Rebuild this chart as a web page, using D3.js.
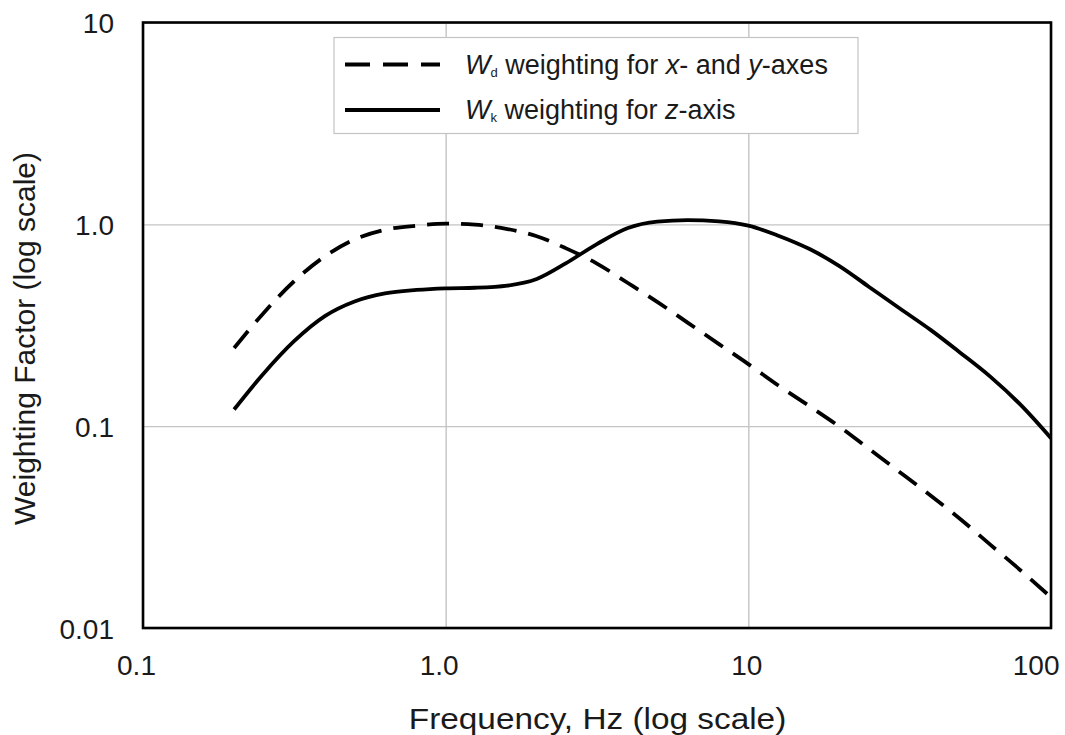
<!DOCTYPE html>
<html>
<head>
<meta charset="utf-8">
<script src="https://cdn.jsdelivr.net/npm/d3@7"></script>
<style>
  body { margin: 0; background: #fff; }
  text { font-family: "Liberation Sans", Arial, sans-serif; fill: #1a1a1a; }
</style>
</head>
<body>
<div id="chart"></div>
<script>
// Frequencies (Hz) read along the x axis
const freqs = [0.2, 0.25, 0.315, 0.4, 0.5, 0.63, 0.8, 1, 1.25, 1.6, 2, 2.5, 3.15, 4, 5, 6.3, 8,
  10, 12.5, 16, 20, 25, 31.5, 40, 50, 63, 80, 100];
// Wd weighting (x- and y-axes), dashed
const wdValues = [0.244, 0.363, 0.521, 0.696, 0.842, 0.940, 0.984, 1.009, 0.997, 0.948, 0.873, 0.760,
  0.641, 0.512, 0.413, 0.326, 0.255, 0.203, 0.160, 0.125, 0.0995, 0.0773, 0.0595, 0.0453, 0.0348,
  0.0259, 0.0191, 0.0142];
// Wk weighting (z-axis), solid
const wkValues = [0.121, 0.182, 0.263, 0.352, 0.415, 0.455, 0.473, 0.482, 0.485, 0.497, 0.536, 0.642,
  0.796, 0.959, 1.032, 1.050, 1.035, 0.986, 0.881, 0.752, 0.621, 0.491, 0.385, 0.300, 0.232,
  0.176, 0.126, 0.0872];

const xTicks = [0.1, 1, 10, 100];
const xTickLabels = ['0.1', '1.0', '10', '100'];
const yTicks = [0.01, 0.1, 1, 10];
const yTickLabels = ['0.01', '0.1', '1.0', '10'];

let
w = 1065, h = 735,
padL = 143, padR = 1051, padT = 22.5, padB = 628, // plot frame edges
gridColor = '#c4c4c4',
font = '"Liberation Sans", Arial, sans-serif',

xScale = d3.scaleLog().domain([0.1, 100]).range([padL, padR]),
yScale = d3.scaleLog().domain([0.01, 10]).range([padB, padT]),

svg = d3.select('#chart').append('svg').attr('width', w).attr('height', h);

// vertical grid lines
svg.append('g').
attr('transform', 'translate(0,' + padB + ')').
call(d3.axisBottom(xScale).tickValues(xTicks).tickSize(-(padB - padT)).tickFormat('')).
call(g => g.select('.domain').remove()).
call(g => g.selectAll('line').attr('stroke', gridColor).attr('stroke-width', 1.4));

// horizontal grid lines
svg.append('g').
attr('transform', 'translate(' + padL + ',0)').
call(d3.axisLeft(yScale).tickValues(yTicks).tickSize(-(padR - padL)).tickFormat('')).
call(g => g.select('.domain').remove()).
call(g => g.selectAll('line').attr('stroke', gridColor).attr('stroke-width', 1.4));

// x tick labels (the last one is pulled inside the page like the original)
svg.append('g').
attr('transform', 'translate(0,' + padB + ')').
call(d3.axisBottom(xScale).tickValues(xTicks).tickSize(0).tickPadding(26).
tickFormat((d, i) => xTickLabels[i])).
call(g => g.select('.domain').remove()).
call(g => g.selectAll('text').
style('font-size', '28px').style('fill', '#1a1a1a').style('font-family', font).
attr('dy', '0.75em').
attr('text-anchor', (d, i) => i === xTicks.length - 1 ? 'end' : 'middle').
attr('dx', (d, i) => i === xTicks.length - 1 ? 8 : (xTickLabels[i].includes('.') ? -7 : -2)));

// y tick labels
svg.append('g').
attr('transform', 'translate(' + padL + ',0)').
call(d3.axisLeft(yScale).tickValues(yTicks).tickSize(0).tickPadding(29).
tickFormat((d, i) => yTickLabels[i])).
call(g => g.select('.domain').remove()).
call(g => g.selectAll('text').
style('font-size', '28px').style('fill', '#1a1a1a').style('font-family', font).
attr('dy', '0.36em'));

// curves
const line = vals => d3.line().
x((d, i) => xScale(freqs[i])).
y(d => yScale(d)).
curve(d3.curveMonotoneX)(vals);

svg.append('clipPath').attr('id', 'clip').
append('rect').attr('x', padL).attr('y', padT).attr('width', padR - padL).attr('height', padB - padT);

svg.append('path').
attr('d', line(wdValues)).
attr('clip-path', 'url(#clip)').
attr('fill', 'none').
attr('stroke', '#000').
attr('stroke-width', 3.8).
attr('stroke-dasharray', '22,12');

svg.append('path').
attr('d', line(wkValues)).
attr('clip-path', 'url(#clip)').
attr('fill', 'none').
attr('stroke', '#000').
attr('stroke-width', 3.8);

// plot frame
svg.append('rect').
attr('x', padL).attr('y', padT).
attr('width', padR - padL).attr('height', padB - padT).
attr('fill', 'none').attr('stroke', '#000').attr('stroke-width', 2.6);

// legend
const legend = svg.append('g').attr('transform', 'translate(334,37.5)');
legend.append('rect').
attr('width', 524).attr('height', 96).
attr('fill', '#fff').attr('stroke', gridColor).attr('stroke-width', 1.2);

legend.append('line').
attr('x1', 11).attr('x2', 106).attr('y1', 27).attr('y2', 27).
attr('stroke', '#000').attr('stroke-width', 3.8).attr('stroke-dasharray', '25,13');
legend.append('line').
attr('x1', 11).attr('x2', 106).attr('y1', 72.5).attr('y2', 72.5).
attr('stroke', '#000').attr('stroke-width', 3.8);

const t1 = legend.append('text').attr('x', 131).attr('y', 36).style('font-size', '27px');
t1.append('tspan').style('font-style', 'italic').text('W');
t1.append('tspan').style('font-size', '13px').attr('dy', 3).text('d');
t1.append('tspan').attr('dy', -3).text(' weighting for ');
t1.append('tspan').style('font-style', 'italic').text('x');
t1.append('tspan').text('- and ');
t1.append('tspan').style('font-style', 'italic').text('y');
t1.append('tspan').text('-axes');

const t2 = legend.append('text').attr('x', 131).attr('y', 81).style('font-size', '27px');
t2.append('tspan').style('font-style', 'italic').text('W');
t2.append('tspan').style('font-size', '13px').attr('dy', 3).text('k');
t2.append('tspan').attr('dy', -3).text(' weighting for ');
t2.append('tspan').style('font-style', 'italic').text('z');
t2.append('tspan').text('-axis');

// axis titles
svg.append('text').
attr('transform', 'translate(' + 597.5 + ',729) scale(1.15,1)').
attr('text-anchor', 'middle').
style('font-size', '29px').
text('Frequency, Hz (log scale)');

svg.append('text').
attr('transform', 'translate(35,338.5) rotate(-90)').
attr('text-anchor', 'middle').
style('font-size', '30px').
text('Weighting Factor (log scale)');
</script>
</body>
</html>
